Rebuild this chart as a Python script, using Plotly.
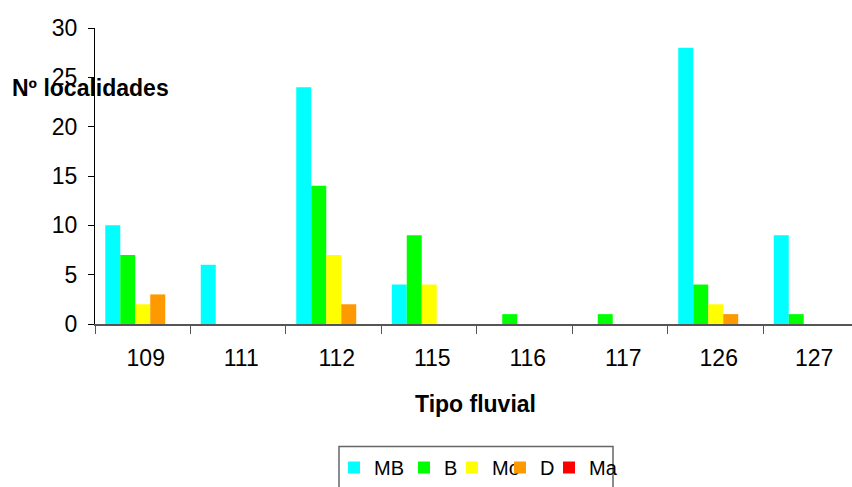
import plotly.graph_objects as go

categories = ["109", "111", "112", "115", "116", "117", "126", "127"]
series_names = ["MB", "B", "Mo", "D", "Ma"]
mb = [10, 6, 24, 4, 0, 0, 28, 9]
b = [7, 0, 14, 9, 1, 1, 4, 1]
mo = [2, 0, 7, 4, 0, 0, 2, 0]
d = [3, 0, 2, 0, 0, 0, 1, 0]
ma = [0, 0, 0, 0, 0, 0, 0, 0]
colors = ["#00FFFF", "#00FF00", "#FFFF00", "#FF9900", "#FF0000"]
y_ticks = [0, 5, 10, 15, 20, 25, 30]

W, H = 852, 487
L, R, T, B = 95, 0, 28, 162
pw, ph = W - L - R, H - T - B

def px_x(x):
    return (x - L) / pw

def px_y(y):
    return (H - B - y) / ph

# legend entry marker centres (px) as in the reference legend box
legend_marker_px = [356, 426, 474, 522, 571]
legend_ids = ["legend", "legend2", "legend3", "legend4", "legend5"]

fig = go.Figure()
for name, vals, col, lid in zip(series_names, [mb, b, mo, d, ma], colors, legend_ids):
    fig.add_trace(go.Bar(x=categories, y=vals, name=name, legend=lid,
                         marker=dict(color=col, line=dict(width=0))))

legend_layout = {}
for lid, mx in zip(legend_ids, legend_marker_px):
    legend_layout[lid] = dict(
        orientation="h", x=px_x(mx - 1 - 21), y=px_y(450),
        xanchor="left", yanchor="top", borderwidth=0,
        bgcolor="rgba(0,0,0,0)", font=dict(size=20), itemwidth=30)

fig.update_layout(
    width=W, height=H,
    margin=dict(l=L, r=R, t=T, b=B),
    plot_bgcolor="white", paper_bgcolor="white",
    barmode="group", bargap=0.215, bargroupgap=0,
    font=dict(family="Liberation Sans, Arial, sans-serif", size=23, color="black"),
    xaxis=dict(type="category", range=[-0.5, 7.427], showgrid=False,
               showline=True, linecolor="#555555", linewidth=1.5,
               ticks="outside", ticklen=8, tickcolor="#555555",
               tickson="boundaries", tickfont=dict(size=23),
               ticklabelstandoff=13, ticklabelshift=3),
    yaxis=dict(range=[0, 30], tickvals=y_ticks, showgrid=False, zeroline=False,
               showline=True, linecolor="black", linewidth=1,
               ticks="outside", ticklen=6, tickcolor="black",
               tickfont=dict(size=23), ticklabelstandoff=6),
    showlegend=True,
    shapes=[dict(type="rect", xref="paper", yref="paper",
                 x0=px_x(339), x1=px_x(613), y0=px_y(500), y1=px_y(448),
                 line=dict(color="#666666", width=1.5), fillcolor="rgba(0,0,0,0)")],
    annotations=[
        dict(text="<b>Nº localidades</b>", xref="paper", yref="paper",
             x=px_x(10), y=px_y(88), xanchor="left", yanchor="middle",
             showarrow=False, font=dict(size=23)),
        dict(text="<b>Tipo fluvial</b>", xref="paper", yref="paper",
             x=px_x(475), y=px_y(405), xanchor="center", yanchor="middle",
             showarrow=False, font=dict(size=23)),
    ],
    **legend_layout,
)

fig.write_html("out.html")
